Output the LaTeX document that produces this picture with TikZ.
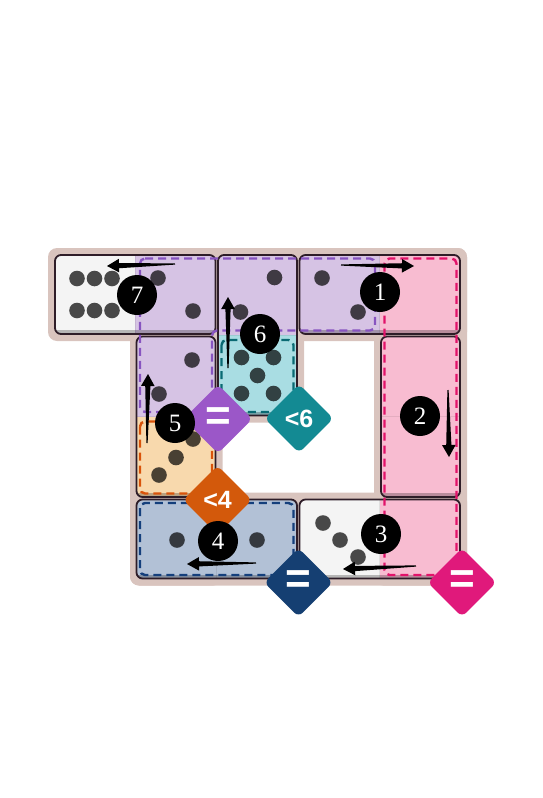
\documentclass[tikz,border=0pt]{standalone}
\usepackage{fontspec}
\setmainfont{Liberation Serif}
\newfontfamily\diafont{Liberation Sans}
\usetikzlibrary{calc,shapes.geometric}
\definecolor{boardc}{HTML}{D9C4BE}
\definecolor{dborderc}{HTML}{2E1D28}
\definecolor{cwhite}{HTML}{F4F4F4}
\definecolor{cpurple}{HTML}{D6C3E4}
\definecolor{cpink}{HTML}{F8BCD1}
\definecolor{cteal}{HTML}{A9DDE3}
\definecolor{corange}{HTML}{F8D9AD}
\definecolor{cblue}{HTML}{B2C1D6}
\definecolor{lpurple}{HTML}{8754C0}
\definecolor{lpink}{HTML}{E2126A}
\definecolor{lteal}{HTML}{0A6A73}
\definecolor{lorange}{HTML}{D9530A}
\definecolor{lblue}{HTML}{143F7C}
\definecolor{dpurple}{HTML}{9B57C8}
\definecolor{dteal}{HTML}{138A93}
\definecolor{dorange}{HTML}{D3590B}
\definecolor{dblue}{HTML}{153F72}
\definecolor{dpink}{HTML}{E0197B}
\tikzset{
  board/.style={fill=boardc, rounded corners=9},
  dborder/.style={draw=dborderc, line width=1.8, rounded corners=6},
  divider/.style={draw=black, opacity=0.08, line width=1},
  shadestrip/.style={fill=black, opacity=0.25},
  region/.style={dash pattern=on 8pt off 5pt, line width=2.4, rounded corners=5},
  pipdot/.style={fill=black, opacity=0.7},
  arrowfill/.style={fill=black},
  numc/.style={circle, fill=black, text=white, minimum size=40, inner sep=0, font=\fontsize{25}{25}\selectfont},
  diam/.style={diamond, minimum size=69, inner sep=0, rounded corners=6, text=white, font=\diafont\bfseries\fontsize{25}{25}\selectfont},
  eqsign/.style={font=\diafont\bfseries\fontsize{44}{44}\selectfont},
}
\newcommand\domino[6]{%
  \pgfmathsetmacro\dxa{55+#1*81.5}%
  \pgfmathsetmacro\dya{255+#2*81.5}%
  \pgfmathsetmacro\dxb{55+#3*81.5+79}%
  \pgfmathsetmacro\dyb{255+#4*81.5+79}%
  \pgfmathsetmacro\dxm{(\dxa+\dxb)/2}%
  \pgfmathsetmacro\dym{(\dya+\dyb)/2}%
  \begin{scope}
    \clip[rounded corners=6] (\dxa,\dya) rectangle (\dxb,\dyb);
    \ifnum#2=#4
      \fill[#5] (\dxa,\dya) rectangle (\dxm,\dyb);
      \fill[#6] (\dxm,\dya) rectangle (\dxb,\dyb);
      \draw[divider] (\dxm,\dya) -- (\dxm,\dyb);
    \else
      \fill[#5] (\dxa,\dya) rectangle (\dxb,\dym);
      \fill[#6] (\dxa,\dym) rectangle (\dxb,\dyb);
      \draw[divider] (\dxa,\dym) -- (\dxb,\dym);
    \fi
    \fill[shadestrip] (\dxa,\dyb-4) rectangle (\dxb,\dyb);
  \end{scope}
  \draw[dborder] (\dxa,\dya) rectangle (\dxb,\dyb);
}
\newcommand\tarrow[2]{%
  \coordinate (tb) at ($(#2)!12pt!(#1)$);
  \fill[arrowfill] ($(#1)!0.6pt!90:(#2)$) -- ($(tb)!2.6pt!-90:(#1)$) -- ($(tb)!6.8pt!-90:(#1)$) -- (#2) -- ($(tb)!6.8pt!90:(#1)$) -- ($(tb)!2.6pt!90:(#1)$) -- ($(#1)!0.6pt!-90:(#2)$) -- cycle;
}
\begin{document}
\begin{tikzpicture}[x=1pt,y=-1pt]
\useasboundingbox (0,0) rectangle (543,798);
% board
\fill[board] (48,248) rectangle (467,341);
\fill[board] (130,248) rectangle (222.5,585.5);
\fill[board] (374,248) rectangle (467,585.5);
\fill[board] (130,492.5) rectangle (467,585.5);
\fill[board] (211,330) rectangle (304,422.5);
% dominoes
\domino{0}{0}{1}{0}{cwhite}{cpurple}
\domino{3}{0}{4}{0}{cpurple}{cpink}
\domino{2}{0}{2}{1}{cpurple}{cteal}
\domino{1}{1}{1}{2}{cpurple}{corange}
\domino{4}{1}{4}{2}{cpink}{cpink}
\domino{1}{3}{2}{3}{cblue}{cblue}
\domino{3}{3}{4}{3}{cwhite}{cpink}
% regions
\draw[region, draw=lpurple] (140,258.5) -- (375,258.5) -- (375,330.5) -- (212,330.5) -- (212,412) -- (140,412) -- cycle;
\draw[region, draw=lpink] (384.5,258.5) rectangle (456.5,575);
\draw[region, draw=lteal] (221.5,340) rectangle (293.5,412);
\draw[region, draw=lorange] (140,421.5) rectangle (212,493.5);
\draw[region, draw=lblue] (140,503) rectangle (293.5,575);
% pips
\foreach \px/\py in {77/278.5,94.5/278.5,112/278.5,77/310.5,94.5/310.5,112/310.5,
  158/278,193/311, 274.5/277.5,240.5/312, 322/278,358/312, 192/360,159/394,
  241.5/357.5,273.5/357.5,257.5/375.5,241.5/393.5,273.5/393.5,
  193/439,176/457.5,159/475, 177/540, 257/540, 323/523,340/540,358/557}
  \fill[pipdot] (\px,\py) circle (7.8);
% arrows
\coordinate (a7t) at (175,264); \coordinate (a7h) at (107,266);
\coordinate (a1t) at (341,265); \coordinate (a1h) at (414,266);
\coordinate (a6t) at (228,368); \coordinate (a6h) at (228,297);
\coordinate (a5t) at (147,443); \coordinate (a5h) at (148,374);
\coordinate (a2t) at (448,390); \coordinate (a2h) at (449,457);
\coordinate (a4t) at (256,563); \coordinate (a4h) at (187,564);
\coordinate (a3t) at (416,566); \coordinate (a3h) at (343,569);
\tarrow{a7t}{a7h}
\tarrow{a1t}{a1h}
\tarrow{a6t}{a6h}
\tarrow{a5t}{a5h}
\tarrow{a2t}{a2h}
\tarrow{a4t}{a4h}
\tarrow{a3t}{a3h}
% constraint diamonds
\node[diam, fill=dpurple, eqsign] (k1) at (218,419) {=};
\node[diam, fill=dteal] (k2) at (299,418.5) {<6};
\node[diam, fill=dorange] (k3) at (217.5,500) {<4};
\node[diam, fill=dblue, eqsign] (k4) at (298.5,582.5) {=};
\node[diam, fill=dpink, eqsign] (k5) at (462,582.5) {=};
% numbers
\node[numc] (n1) at (380,292) {1};
\node[numc] (n2) at (420,416) {2};
\node[numc] (n3) at (381,534) {3};
\node[numc] (n4) at (218,541) {4};
\node[numc] (n5) at (175,423) {5};
\node[numc] (n6) at (260,334) {6};
\node[numc] (n7) at (137,295) {7};
\end{tikzpicture}
\end{document}
